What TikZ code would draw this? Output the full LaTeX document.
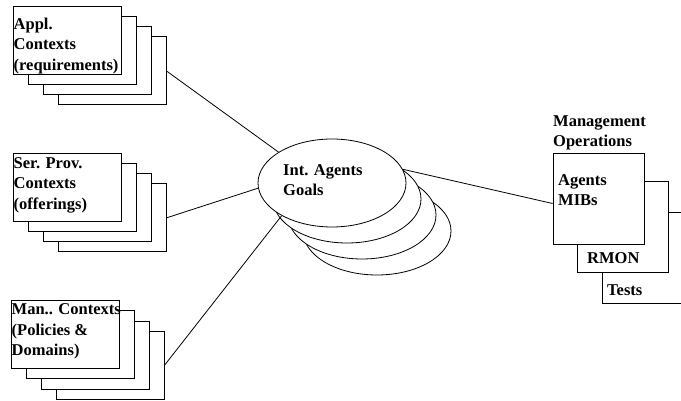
\documentclass[tikz,border=0pt]{standalone}
\usepackage{fontspec}
\setmainfont{Liberation Serif}
\usetikzlibrary{shapes.geometric}

\begin{document}
\begin{tikzpicture}[x=1pt, y=-1pt,
  ctx/.style={draw, fill=white, line width=0.8pt, minimum width=108pt, minimum height=68pt, inner sep=0pt},
  goal/.style={draw, ellipse, fill=white, line width=0.8pt, minimum width=148pt, minimum height=88pt, inner sep=0pt},
  mop/.style={draw, fill=white, line width=0.8pt, minimum size=91pt, inner sep=0pt},
  lbl/.style={anchor=north west, inner sep=0pt, align=left, font=\bfseries\fontsize{16.5}{20.5}\selectfont},
  lnk/.style={line width=0.8pt}]
  \useasboundingbox (0,0) rectangle (681,401);
  \clip (0,0) rectangle (681,401);
  % context stacks
  \foreach \i in {3,2,1} {
    \node[ctx] (appl\i) at ({67+15*\i},{40+10.3*\i}) {};
    \node[ctx] (serv\i) at ({67+15*\i},{187+10.3*\i}) {};
    \node[ctx] (mang\i) at ({65+15*\i},{334.5+10.3*\i}) {};
  }
  \node[ctx] (appl) at (67,40) {};
  \node[ctx] (serv) at (67,187) {};
  \node[ctx] (mang) at (65,334.5) {};
  % goals
  \foreach \i in {3,2,1}
    \node[goal] (goal\i) at ({332+15*\i},{183+16*\i}) {};
  \node[goal] (goals) at (332,183) {};
  % management operations
  \node[mop] (tests) at (648,257.5) {};
  \node[mop] (rmon) at (623,226.5) {};
  \node[mop] (mibs) at (598.5,198.5) {};

  \node[lbl] (appltxt) at (13.5,14.6) {\strut Appl.\\Contexts\\(requirements)};
  \node[lbl] (servtxt) at (13.5,153.6) {\strut Ser. Prov.\\Contexts\\(offerings)};
  \node[lbl] (mangtxt) at (11.5,300.3) {\strut Man.. Contexts\\(Policies \&\\Domains)};
  \node[lbl] (goaltxt) at (283,160.6) {\strut Int. Agents\\Goals};
  \node[lbl] (moptxt) at (553,111.6) {\strut Management\\Operations};
  \node[lbl] (mibstxt) at (558,170.6) {\strut Agents\\MIBs};
  \node[lbl] (rmontxt) at (587,248.6) {\strut RMON};
  \node[lbl] (teststxt) at (607,281.1) {\strut Tests};

  \draw[lnk] (appl3.east) -- (goals.150);
  \draw[lnk] (serv3.east) -- (goals.184);
  \draw[lnk] (mang3.east) -- (goals.213);
  \draw[lnk] (goals.11) -- ([yshift=-5pt]mibs.west);
\end{tikzpicture}
\end{document}
